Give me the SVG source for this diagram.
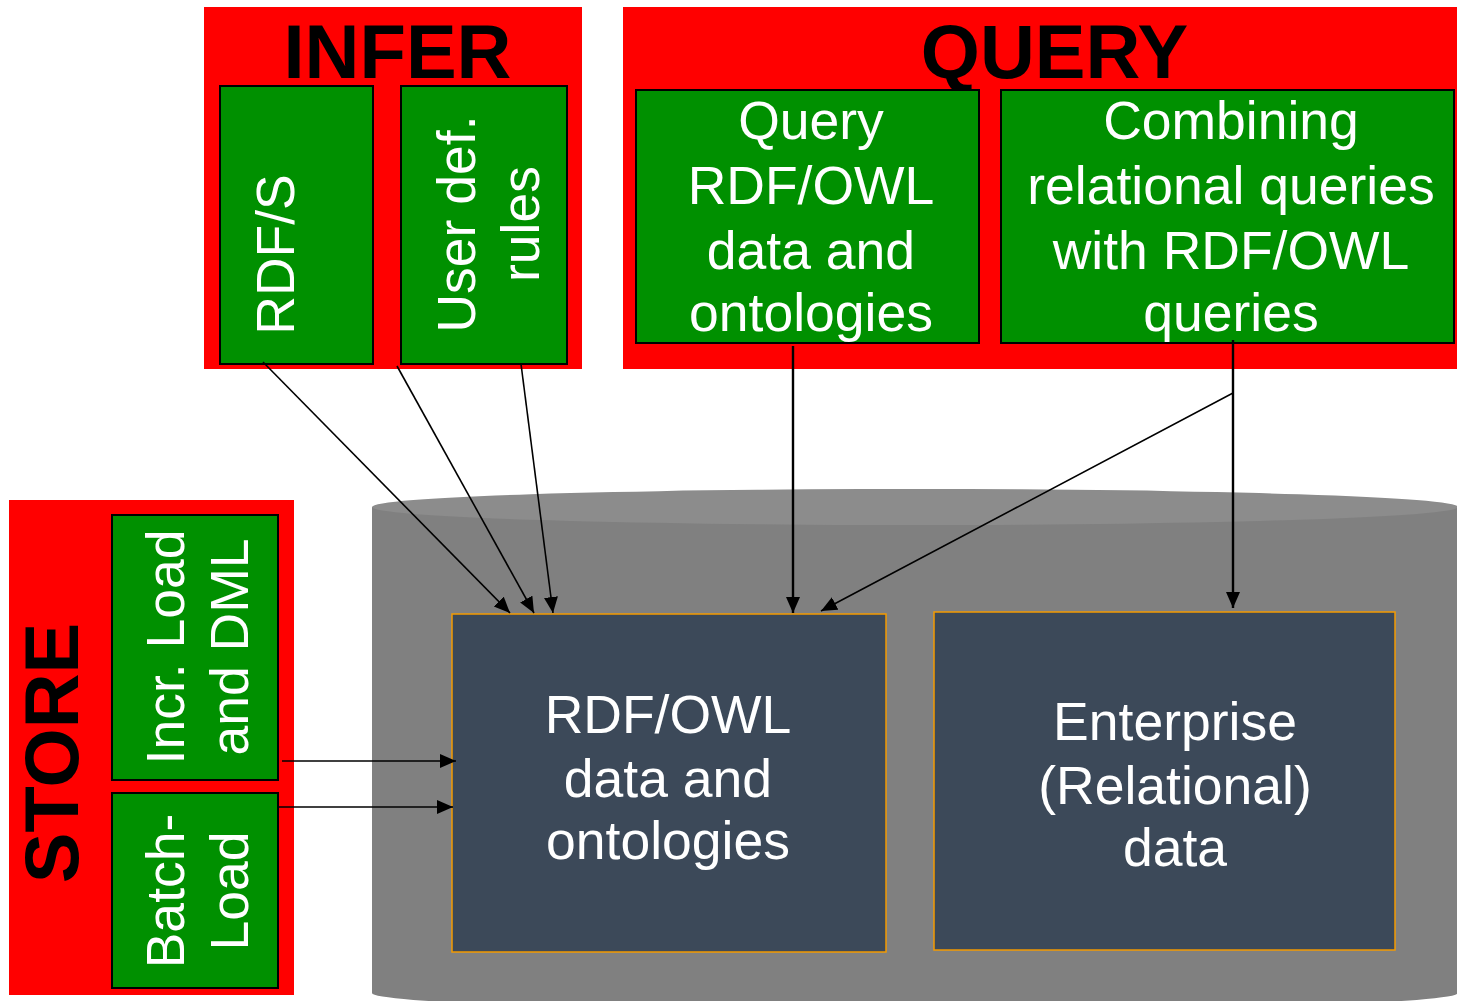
<svg xmlns="http://www.w3.org/2000/svg" width="1457" height="1001" viewBox="0 0 1457 1001">
  <defs>
    <style>
      .panel { fill: #ff0000; }
      .task { fill: #009000; stroke: #000; stroke-width: 2; }
      .store-box { fill: #3c4959; stroke: #f39a00; stroke-width: 1.5; }
      .title { font-family: "Liberation Sans", Arial, sans-serif; font-weight: bold; font-size: 76px; fill: #000; text-anchor: middle; }
      .label { font-family: "Liberation Sans", Arial, sans-serif; font-size: 53.5px; fill: #fff; text-anchor: middle; }
      .wire { fill: none; stroke: #000; stroke-width: 1.6; }
      .wire-bold { fill: none; stroke: #000; stroke-width: 2.4; }
    </style>
    <marker id="arrow" markerUnits="userSpaceOnUse" markerWidth="17" markerHeight="15" refX="16" refY="7" orient="auto">
      <path d="M0,0 L16,7 L0,14 z" fill="#000"/>
    </marker>
  </defs>

  <rect width="1457" height="1001" fill="#fff"/>

  <!-- database cylinder -->
  <g id="database">
    <path d="M372,507 L372,993 A543,18 0 0 0 1458,993 L1458,507 Z" fill="#808080"/>
    <ellipse cx="915" cy="507" rx="543" ry="18" fill="#8c8c8c"/>
  </g>

  <!-- INFER panel -->
  <g id="infer">
    <rect class="panel" x="204" y="7" width="378" height="362"/>
    <text class="title" x="397.5" y="78">INFER</text>
  </g>
  <g id="rdfs">
    <rect class="task" x="220" y="86" width="153" height="278"/>
    <text class="label" transform="translate(294,254.5) rotate(-90)">RDF/S</text>
  </g>
  <g id="user-rules">
    <rect class="task" x="401" y="86" width="166" height="278"/>
    <text class="label" transform="translate(475,224) rotate(-90)">User def.</text>
    <text class="label" transform="translate(539,224) rotate(-90)">rules</text>
  </g>

  <!-- QUERY panel -->
  <g id="query">
    <rect class="panel" x="623" y="7" width="834" height="362"/>
    <text class="title" x="1054.5" y="78">QUERY</text>
  </g>
  <g id="query-rdf">
    <rect class="task" x="636" y="90" width="343" height="253"/>
    <text class="label" x="811" y="139">Query</text>
    <text class="label" x="811" y="204">RDF/OWL</text>
    <text class="label" x="811" y="269">data and</text>
    <text class="label" x="811" y="331">ontologies</text>
  </g>
  <g id="query-combined">
    <rect class="task" x="1001" y="90" width="453" height="253"/>
    <text class="label" x="1231" y="139">Combining</text>
    <text class="label" x="1231" y="204">relational queries</text>
    <text class="label" x="1231" y="269">with RDF/OWL</text>
    <text class="label" x="1231" y="331">queries</text>
  </g>

  <!-- STORE panel -->
  <g id="store">
    <rect class="panel" x="9" y="500" width="285" height="495"/>
    <text class="title" transform="translate(78,753) rotate(-90)">STORE</text>
  </g>
  <g id="incr-load">
    <rect class="task" x="112" y="515" width="166" height="265"/>
    <text class="label" transform="translate(184,647) rotate(-90)">Incr. Load</text>
    <text class="label" transform="translate(248,647) rotate(-90)">and DML</text>
  </g>
  <g id="batch-load">
    <rect class="task" x="112" y="793" width="166" height="195"/>
    <text class="label" transform="translate(184,891) rotate(-90)">Batch-</text>
    <text class="label" transform="translate(248,891) rotate(-90)">Load</text>
  </g>

  <!-- storage contents -->
  <g id="rdf-data">
    <rect class="store-box" x="452" y="614" width="434" height="338"/>
    <text class="label" x="668" y="733">RDF/OWL</text>
    <text class="label" x="668" y="797">data and</text>
    <text class="label" x="668" y="859">ontologies</text>
  </g>
  <g id="enterprise-data">
    <rect class="store-box" x="934" y="612" width="461" height="338"/>
    <text class="label" x="1175" y="740">Enterprise</text>
    <text class="label" x="1175" y="804">(Relational)</text>
    <text class="label" x="1175" y="866">data</text>
  </g>

  <!-- connectors -->
  <g id="connectors">
    <line class="wire" x1="263" y1="362" x2="510" y2="613" marker-end="url(#arrow)"/>
    <line class="wire" x1="397" y1="366" x2="534" y2="613" marker-end="url(#arrow)"/>
    <line class="wire" x1="521" y1="364" x2="553" y2="613" marker-end="url(#arrow)"/>
    <line class="wire-bold" x1="793" y1="346" x2="793" y2="613" marker-end="url(#arrow)"/>
    <polyline class="wire" points="1233,340 1233,393 821,611" marker-end="url(#arrow)"/>
    <line class="wire-bold" x1="1233" y1="340" x2="1233" y2="608" marker-end="url(#arrow)"/>
    <line class="wire" x1="282" y1="761" x2="456" y2="761" marker-end="url(#arrow)"/>
    <line class="wire" x1="277" y1="807" x2="453" y2="807" marker-end="url(#arrow)"/>
  </g>
</svg>
